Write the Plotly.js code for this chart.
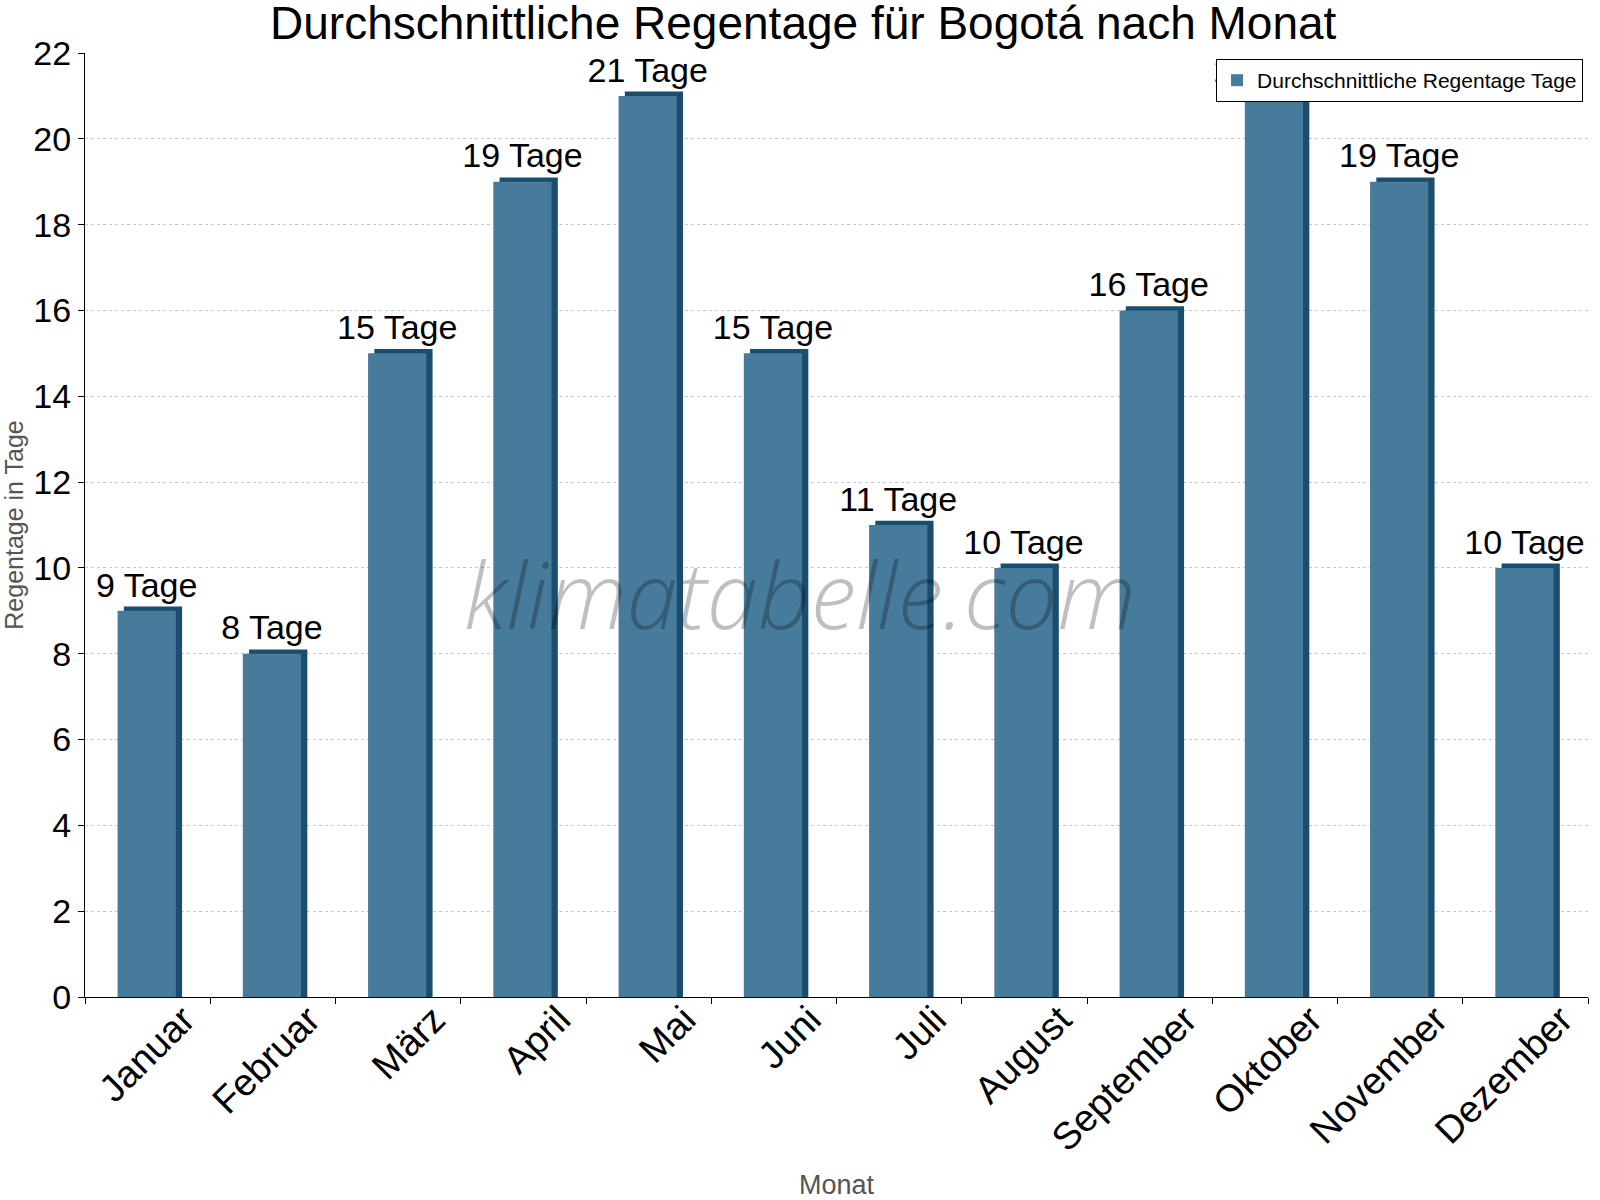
<!DOCTYPE html>
<html>
<head>
<meta charset="utf-8">
<script src="https://cdn.plot.ly/plotly-3.0.1.min.js"></script>
<style>
  body { margin: 0; background: #fff; }
  #chart { width: 1600px; height: 1200px; }
</style>
</head>
<body>
<div id="chart"></div>
<script>
// Regentage pro Monat
var months = ['Januar', 'Februar', 'März', 'April', 'Mai', 'Juni',
              'Juli', 'August', 'September', 'Oktober', 'November', 'Dezember'];
var rainDays = [9, 8, 15, 19, 21, 15, 11, 10, 16, 21, 19, 10];
var seriesName = 'Durchschnittliche Regentage Tage';

var font = 'Liberation Sans, Arial, sans-serif';
var depth = 0.1; // Höhe der oberen 3D-Kante in Achseneinheiten
var labels = rainDays.map(function (v) { return v + ' Tage'; });
var topEdge = rainDays.map(function (v) { return v + depth; });

// dunkle "Seite" der 3D-Säule, leicht nach rechts oben versetzt
var shadow = {
    x: months,
    y: topEdge,
    type: 'bar',
    width: 0.465,
    offset: -0.19,
    marker: { color: '#1b4d6e' },
    showlegend: false,
    hoverinfo: 'skip'
};

var front = {
    x: months,
    y: rainDays,
    type: 'bar',
    name: seriesName,
    width: 0.465,
    offset: -0.24,
    marker: { color: '#467b9c' }
};

// unsichtbare Säulen nur für die Beschriftung über der Vorderseite
var valueLabels = {
    x: months,
    y: topEdge,
    type: 'bar',
    width: 0.465,
    offset: -0.24,
    marker: { color: 'rgba(0,0,0,0)' },
    text: labels,
    textposition: 'outside',
    constraintext: 'none',
    cliponaxis: false,
    textfont: { family: font, size: 34, color: '#000' },
    showlegend: false,
    hoverinfo: 'skip'
};

var layout = {
    width: 1600,
    height: 1200,
    barmode: 'overlay',
    paper_bgcolor: '#fff',
    plot_bgcolor: '#fff',
    margin: { l: 85, r: 12, t: 53, b: 203 },
    font: { family: font, color: '#000' },
    title: {
        text: 'Durchschnittliche Regentage für Bogotá nach Monat',
        font: { family: font, size: 46, color: '#000' },
        x: 0.502, xanchor: 'center',
        yref: 'container', y: 0.981, yanchor: 'middle'
    },
    xaxis: {
        type: 'category',
        tickangle: -45,
        tickfont: { size: 38 },
        ticklabelshift: 36,
        ticklabelstandoff: -16,
        ticks: 'outside',
        tickson: 'boundaries',
        ticklen: 6,
        tickcolor: '#000',
        showline: true,
        linecolor: '#000',
        showgrid: false,
        title: { text: 'Monat', font: { size: 27, color: '#555' }, standoff: 20 }
    },
    yaxis: {
        range: [0, 22],
        dtick: 2,
        tickfont: { size: 34 },
        ticks: 'outside',
        ticklen: 6,
        tickcolor: '#000',
        showline: true,
        linecolor: '#000',
        gridcolor: '#c8c8c8',
        griddash: 'dot',
        zeroline: false,
        title: { text: 'Regentage in Tage', font: { size: 25, color: '#555' }, standoff: 10 }
    },
    legend: {
        x: 0.9967, xanchor: 'right',
        y: 0.9936, yanchor: 'top',
        bgcolor: '#fff',
        bordercolor: '#000',
        borderwidth: 1,
        font: { size: 21 }
    },
    annotations: [{
        text: 'klimatabelle.com',
        xref: 'paper', yref: 'paper',
        x: 0.476, y: 0.427,
        showarrow: false,
        font: { family: 'Open Sans, sans-serif', size: 92, color: 'rgba(0,0,0,0.25)', style: 'italic', weight: 300 }
    }]
};

Plotly.newPlot('chart', [shadow, front, valueLabels], layout, { displayModeBar: false });
</script>
</body>
</html>
